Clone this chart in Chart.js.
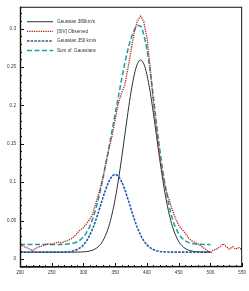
<!DOCTYPE html>
<html lang="en">
<head>
    <meta charset="UTF-8">
    <title>SIV line profile</title>
    <script src="https://cdn.jsdelivr.net/npm/chart.js"></script>
    <style>
        html, body { margin: 0; padding: 0; background: #fff; }
        #wrap { width: 249px; height: 291px; }
    </style>
</head>
<body>
    <div id="wrap"><canvas id="chart" width="249" height="291"></canvas></div>

    <script>
        // velocity grid (km/s) of the fitted gaussians
        const modelX = [200,205,210,215,220,225,230,235,240,245,250,255,260,265,270,275,280,285,290,295,
            300,305,310,315,320,325,330,335,340,345,350,355,360,365,370,375,380,385,390,395,
            400,405,410,415,420,425,430,435,440,445,450,455,460,465,470,475,480,485,490,495,500];

        const gauss380 = [0.009,0.009,0.009,0.009,0.009,0.009,0.009,0.009,0.009,0.009,0.009,0.009,0.009,0.009,0.009,0.009,0.009,0.009,
            0.0091,0.0092,0.0094,0.0098,0.0105,0.0118,0.014,0.0175,0.023,0.0312,0.0428,0.0585,0.0785,0.1028,0.1307,0.1606,
            0.1905,0.2178,0.2398,0.2541,0.259,0.2541,0.2398,0.2178,0.1905,0.1606,0.1307,0.1028,0.0785,0.0585,0.0428,0.0312,
            0.023,0.0175,0.014,0.0118,0.0105,0.0098,0.0094,0.0092,0.0091,0.009,0.009];

        const gauss350 = [0.009,0.009,0.009,0.009,0.009,0.009,0.009,0.009,0.009,0.009,0.009,0.009,0.009,
            0.0091,0.0092,0.0095,0.01,0.0109,0.0124,0.0148,0.0185,0.0239,0.0313,0.0407,0.0521,0.0649,0.0782,0.0906,0.1009,
            0.1076,0.11,0.1076,0.1009,0.0906,0.0782,0.0649,0.0521,0.0407,0.0313,0.0239,0.0185,0.0148,0.0124,0.0109,0.01,
            0.0095,0.0092,0.0091,0.009,0.009,0.009,0.009,0.009,0.009,0.009,0.009,0.009,0.009,0.009,0.009,0.009];

        const gaussSum = [0.019,0.019,0.019,0.019,0.019,0.019,0.019,0.019,0.019,0.019,0.019,0.019,0.019,
            0.0191,0.0192,0.0195,0.02,0.0209,0.0225,0.025,0.0289,0.0347,0.0428,0.0535,0.0671,0.0834,0.1022,0.1228,0.1447,
            0.1671,0.1895,0.2114,0.2336,0.2545,0.2727,0.2875,0.298,0.304,0.303,0.292,0.272,0.245,0.212,0.177,0.144,
            0.1145,0.0895,0.069,0.0528,0.0412,0.033,0.0275,0.024,0.0218,0.0205,0.0198,0.0194,0.0192,0.0191,0.019,0.019];

        // observed [SIV] profile
        const obsX = [200,205,210,215,220,225,230,235,240,245,250,255,260,265,270,275,280,285,290,295,
            300,305,310,315,320,325,330,335,340,345,350,355,360,365,370,375,380,385,390,395,
            400,405,410,415,420,425,430,435,440,445,450,455,460,465,470,475,480,485,490,495,
            500,505,510,515,520,525,530,535,540,545,550];

        const observed = [0.018,0.017,0.015,0.013,0.011,0.014,0.016,0.017,0.019,0.02,
            0.019,0.021,0.022,0.021,0.023,0.024,0.026,0.029,0.034,0.038,
            0.041,0.046,0.052,0.06,0.074,0.088,0.104,0.124,0.143,0.16,
            0.182,0.203,0.216,0.226,0.248,0.272,0.295,0.31,0.316,0.309,
            0.288,0.249,0.204,0.168,0.134,0.108,0.09,0.077,0.064,0.053,
            0.044,0.039,0.034,0.028,0.024,0.022,0.02,0.017,0.014,0.011,
            0.008,0.012,0.013,0.016,0.02,0.016,0.013,0.016,0.013,0.015,0.012];

        const xTicks = [200, 250, 300, 350, 400, 450, 500, 550];
        const yTicks = [0, 0.05, 0.1, 0.15, 0.2, 0.25, 0.3];

        const labelFont = '4.6px "Liberation Sans", Arial, sans-serif';

        function pts(xs, ys) {
            return xs.map((x, i) => ({ x: x, y: ys[i] }));
        }

        // box frame plus inward major/minor ticks
        const frame = {
            id: 'frame',
            afterDatasetsDraw(chart) {
                const { ctx, chartArea: a, scales } = chart;
                const xs = scales.x, ys = scales.y;
                ctx.save();
                ctx.strokeStyle = '#111';
                ctx.lineWidth = 1;
                ctx.strokeRect(a.left + 0.5, a.top + 0.5, a.right - a.left - 1, a.bottom - a.top - 1);
                ctx.lineWidth = 1.4;
                ctx.beginPath();
                ctx.moveTo(a.left + 0.5, a.top);
                ctx.lineTo(a.left + 0.5, a.bottom);
                ctx.lineTo(a.right, a.bottom - 0.5);
                ctx.stroke();

                ctx.lineWidth = 1;
                ctx.beginPath();
                for (let v = 200; v <= 550; v += 10) {
                    const px = Math.round(xs.getPixelForValue(v)) + 0.5;
                    const len = v % 50 === 0 ? 4 : 2;
                    ctx.moveTo(px, a.bottom);
                    ctx.lineTo(px, a.bottom - len);
                }
                for (let k = 0; k <= 32; k++) {
                    const py = Math.round(ys.getPixelForValue(k / 100)) + 0.5;
                    const len = k % 5 === 0 ? 4 : 2;
                    ctx.moveTo(a.left, py);
                    ctx.lineTo(a.left + len, py);
                }
                ctx.stroke();
                ctx.restore();
            }
        };

        // legend drawn in the upper left corner of the plot
        const cornerLegend = {
            id: 'cornerLegend',
            afterDraw(chart) {
                const { ctx, chartArea: a } = chart;
                ctx.save();
                ctx.font = labelFont;
                ctx.textBaseline = 'middle';
                chart.data.datasets.forEach((ds, i) => {
                    const y = a.top + 15 + i * 9.6;
                    ctx.strokeStyle = ds.borderColor;
                    ctx.lineWidth = ds.borderWidth;
                    ctx.setLineDash(ds.borderDash || []);
                    ctx.beginPath();
                    ctx.moveTo(a.left + 7, y);
                    ctx.lineTo(a.left + 33, y);
                    ctx.stroke();
                    ctx.setLineDash([]);
                    ctx.fillStyle = '#333';
                    ctx.fillText(ds.label, a.left + 37, y);
                });
                ctx.restore();
            }
        };

        new Chart(document.getElementById('chart'), {
            type: 'line',
            data: {
                datasets: [
                    {
                        label: 'Gaussian 380km/s',
                        data: pts(modelX, gauss380),
                        borderColor: '#1a1a1a',
                        borderWidth: 0.9,
                        cubicInterpolationMode: 'monotone',
                        order: 4
                    },
                    {
                        label: '[SIV] Observed',
                        data: pts(obsX, observed),
                        borderColor: '#b3261e',
                        borderWidth: 1.3,
                        borderDash: [1.3, 1],
                        order: 1
                    },
                    {
                        label: 'Gaussian 350 km/s',
                        data: pts(modelX, gauss350),
                        borderColor: '#1f5ca8',
                        borderWidth: 1.6,
                        borderDash: [2.5, 1.2],
                        cubicInterpolationMode: 'monotone',
                        order: 2
                    },
                    {
                        label: 'Sum of  Gaussians',
                        data: pts(modelX, gaussSum),
                        borderColor: '#1b9e9e',
                        borderWidth: 1.5,
                        borderDash: [5, 2.5],
                        cubicInterpolationMode: 'monotone',
                        order: 3
                    }
                ]
            },
            options: {
                responsive: false,
                animation: false,
                events: [],
                layout: { padding: { top: 4, right: 4, left: 0, bottom: 0 } },
                elements: { point: { radius: 0 }, line: { fill: false } },
                plugins: {
                    legend: { display: false },
                    tooltip: { enabled: false }
                },
                scales: {
                    x: {
                        type: 'linear',
                        min: 200,
                        max: 550,
                        grid: { display: false, drawTicks: false },
                        border: { display: false },
                        afterBuildTicks: s => { s.ticks = xTicks.map(v => ({ value: v })); },
                        afterFit: s => { s.height = 24; },
                        ticks: {
                            padding: 3,
                            maxRotation: 0,
                            autoSkip: false,
                            color: '#333',
                            font: { family: '"Liberation Sans", Arial, sans-serif', size: 4.6 },
                            callback: v => String(v)
                        }
                    },
                    y: {
                        min: -0.0103,
                        max: 0.3283,
                        grid: { display: false, drawTicks: false },
                        border: { display: false },
                        afterBuildTicks: s => { s.ticks = yTicks.map(v => ({ value: v })); },
                        afterFit: s => { s.width = 20; },
                        ticks: {
                            padding: 4,
                            autoSkip: false,
                            color: '#333',
                            font: { family: '"Liberation Sans", Arial, sans-serif', size: 4.6 },
                            callback: v => String(+v.toFixed(2))
                        }
                    }
                }
            },
            plugins: [frame, cornerLegend]
        });
    </script>
</body>
</html>
